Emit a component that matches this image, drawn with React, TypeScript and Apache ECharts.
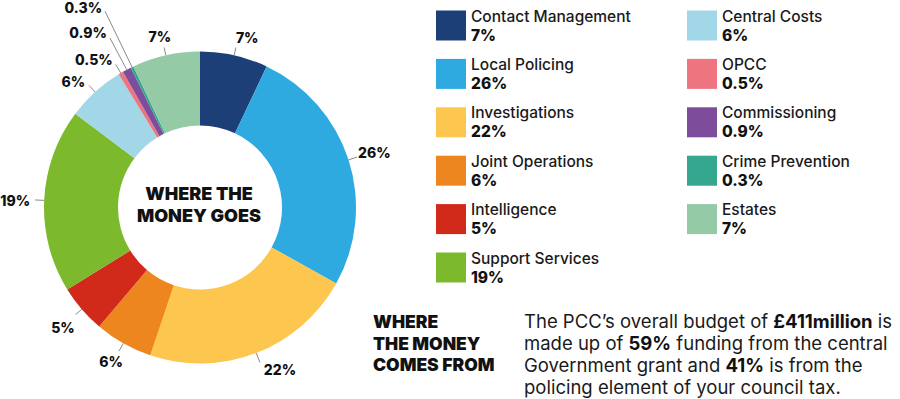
import React, { useEffect, useRef } from "react";
import * as echarts from "echarts";

const categories = [
  "Contact Management",
  "Local Policing",
  "Investigations",
  "Joint Operations",
  "Intelligence",
  "Support Services",
  "Central Costs",
  "OPCC",
  "Commissioning",
  "Crime Prevention",
  "Estates",
];
const values = [7, 26, 22, 6, 5, 19, 6, 0.5, 0.9, 0.3, 7];
const leftLegend = categories.slice(0, 6);
const rightLegend = categories.slice(6);

const palette = [
  "#1d3f77",
  "#2eaae1",
  "#fdc64e",
  "#ee8620",
  "#d12a1a",
  "#7cb92c",
  "#a2d7e8",
  "#ee7480",
  "#7d4c9a",
  "#35a78f",
  "#94cba6",
];
// leader length, label distance, vertical shift (+ down)
const labelTweak: [number, number, number][] = [
  [8, 0, -10],
  [9, 1, -5],
  [10, 4, 7],
  [9, -4, 10],
  [8, 1, 13],
  [9, 5, 1],
  [9, 4, -4],
  [10, 3, -5],
  [36, 3, -5],
  [62, 3, -4],
  [8, -7, -11],
];

const FONT = "Inter, 'Noto Sans', sans-serif";

export default function App() {
  const ref = useRef<HTMLDivElement>(null);
  useEffect(() => {
    if (!ref.current) return;
    const chart = echarts.init(ref.current, undefined, { renderer: "svg" });
    const rich: Record<string, any> = {
      v: { fontFamily: FONT, fontSize: 14, fontWeight: 800, color: "#111", lineHeight: 16 },
    };
    labelTweak.forEach(([, , shift], i) => {
      rich["s" + i] = { fontSize: 1, lineHeight: Math.max(1, 2 * Math.abs(shift)) };
    });
    const data = categories.map((name, i) => {
      const [len, dist] = labelTweak[i];
      return {
        name,
        value: values[i],
        itemStyle: { color: palette[i] },
        label: { distanceToLabelLine: dist },
        labelLine: { length: len, length2: 0 },
      };
    });
    const legendCommon = {
      orient: "vertical",
      icon: "rect",
      itemWidth: 30,
      itemHeight: 30,
      itemGap: 13.4,
      selectedMode: false,
      formatter: (name: string) => {
        const i = categories.indexOf(name);
        return `{n|${name}}\n{p|${values[i]}%}`;
      },
      textStyle: {
        rich: {
          n: { fontFamily: FONT, fontSize: 15.5, fontWeight: 500, color: "#1a1a1a", lineHeight: 19 },
          p: { fontFamily: FONT, fontSize: 15.5, fontWeight: 800, color: "#111", lineHeight: 19 },
        },
      },
    };
    chart.setOption({
      animation: false,
      legend: [
        { ...legendCommon, left: 431, top: 3, data: leftLegend },
        { ...legendCommon, left: 682, top: 3, data: rightLegend },
      ],
      series: [
        {
          type: "pie",
          center: [200, 207.5],
          radius: [82, 156],
          startAngle: 90,
          clockwise: true,
          avoidLabelOverlap: false,
          emphasis: { disabled: true },
          label: {
            show: true,
            position: "outside",
            formatter: (p: any) => {
              const shift = labelTweak[p.dataIndex][2];
              const v = `{v|${p.value}%}`;
              if (shift < 0) return `${v}\n{s${p.dataIndex}| }`;
              if (shift > 0) return `{s${p.dataIndex}| }\n${v}`;
              return v;
            },
            fontFamily: FONT,
            fontSize: 14,
            fontWeight: 800,
            color: "#111",
            rich,
          },
          labelLine: {
            show: true,
            smooth: false,
            lineStyle: { color: "#8a8a8a", width: 1 },
          },
          data,
        },
      ],
      graphic: [
        {
          type: "text",
          x: 199,
          y: 204,
          style: {
            text: "WHERE THE\nMONEY GOES",
            fontFamily: FONT,
            fontSize: 18,
            fontWeight: 900,
            lineHeight: 22,
            fill: "#111",
            align: "center",
            verticalAlign: "middle",
          },
        },
        {
          type: "text",
          left: 373,
          top: 311,
          style: {
            text: "WHERE\nTHE MONEY\nCOMES FROM",
            fontFamily: FONT,
            fontSize: 17.5,
            fontWeight: 900,
            lineHeight: 21.5,
            fill: "#111",
          },
        },
        {
          type: "text",
          left: 524,
          top: 310,
          style: {
            text:
              "The PCC\u2019s overall budget of {b|\u00a3411million} is\nmade up of {b|59%} funding from the central\nGovernment grant and {b|41%} is from the\npolicing element of your council tax.",
            fontFamily: FONT,
            fontSize: 18.5,
            fontWeight: 400,
            lineHeight: 22,
            fill: "#1a1a1a",
            rich: {
              b: { fontFamily: FONT, fontSize: 18.5, fontWeight: 700, lineHeight: 22, fill: "#111" },
            },
          },
        },
      ],
    });
    return () => chart.dispose();
  }, []);
  return <div ref={ref} style={{ width: 900, height: 399, position: "absolute", left: 0, top: 0 }} />;
}
